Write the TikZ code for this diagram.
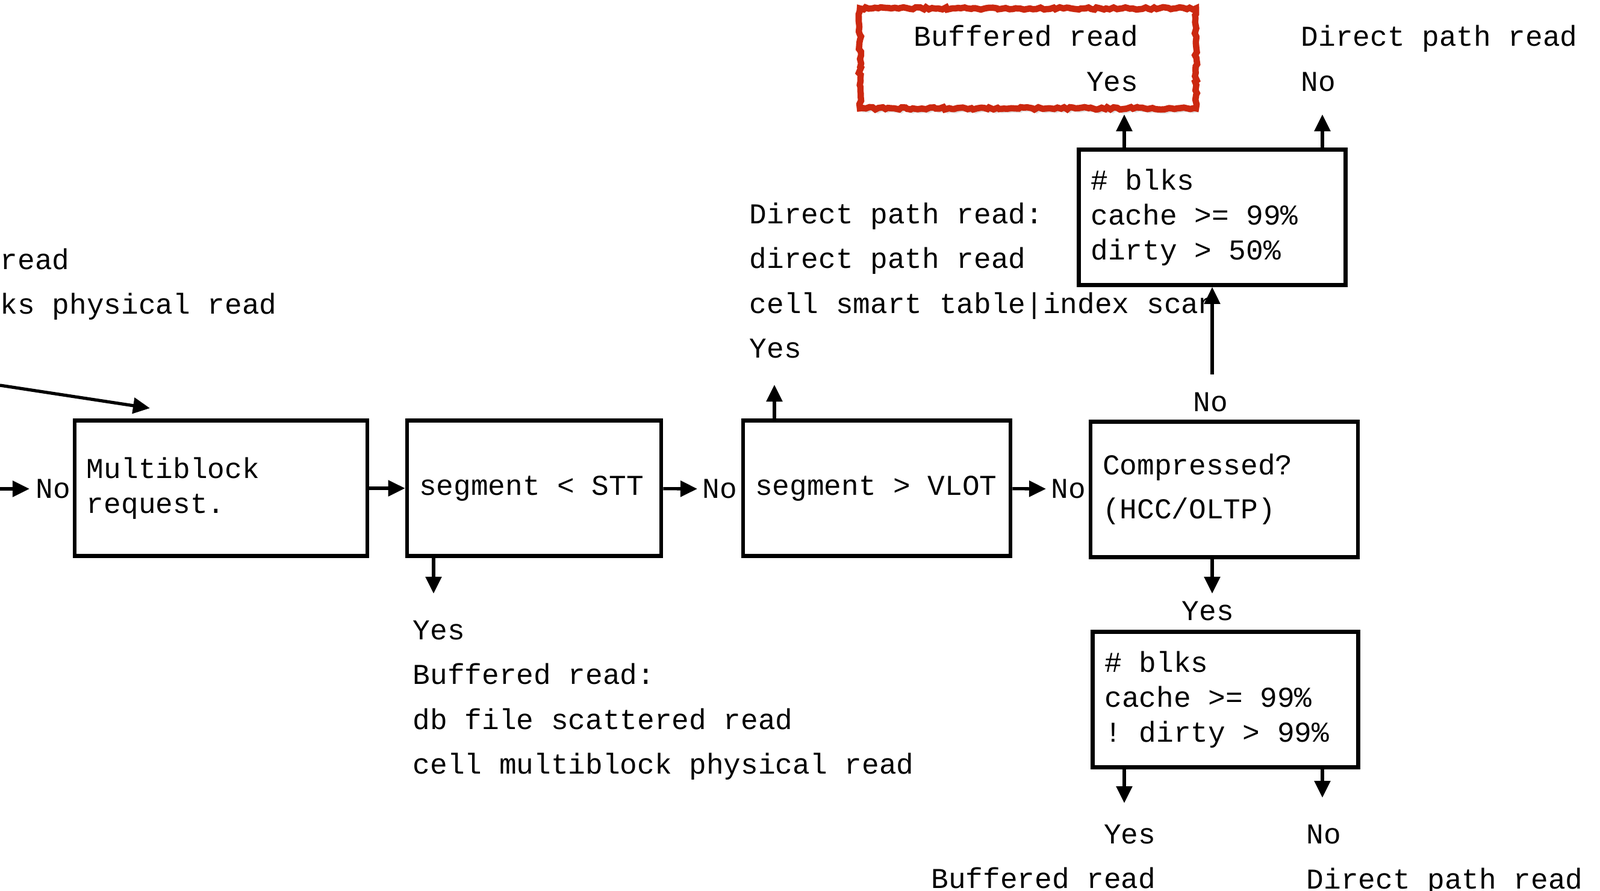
\documentclass[tikz,border=0pt]{standalone}
\usepackage{fontspec}
\setmainfont{Liberation Mono}
\usetikzlibrary{positioning,arrows.meta,decorations.pathmorphing,shadows}
\definecolor{markred}{RGB}{204,40,16}

\begin{document}
\begin{tikzpicture}[every node/.style={font=\fontsize{13.6}{16.4}\selectfont},
    box/.style={draw,line width=1.9pt,minimum height=2.25cm,inner xsep=0.2cm,align=flush left},
    lab/.style={inner sep=0pt,align=left,font=\fontsize{13.6}{21.2}\selectfont},
    arr/.style={-{Triangle[length=0.28cm,width=0.26cm]},line width=1.5pt},
    hilite/.style={draw=markred,fill=white,line width=3pt,
        decoration={random steps,segment length=1.5pt,amplitude=0.6pt},decorate,
        drop shadow={shadow xshift=0.04cm,shadow yshift=-0.07cm,opacity=0.25}}]

    \useasboundingbox (0,0) rectangle (26.57,-14.80);

    % === Main line – four tests ===
    \node[box,text width=4.46cm] (multi) at (3.67,-8.11) {Multiblock\\request.};
    \node[box,text width=3.82cm] (stt) at (8.87,-8.11) {segment < STT};
    \node[box,text width=4.04cm] (vlot) at (14.56,-8.11) {segment > VLOT};
    \node[box,text width=4.04cm] (comp) at (20.33,-8.13) {Compressed?\\[4.4pt](HCC/OLTP)};

    \node[lab,anchor=west] (no0) at (0.59,-8.12) {No};
    \node[lab,anchor=west] (no1) at (11.66,-8.12) {No};
    \node[lab,anchor=west] (no2) at (17.45,-8.12) {No};

    \coordinate (inleft) at (0,-8.12);
    \draw[arr,shorten >=0.1cm] (inleft) -- (no0.west);
    \draw[arr] (multi) -- (stt);
    \draw[arr,shorten >=0.08cm] (stt) -- (no1.west);
    \draw[arr,shorten >=0.08cm] (vlot) -- (no2.west);

    % coming in from the left
    \node[lab,anchor=west] (cutlab) at (0,-4.72) {read\\ks physical read};
    \coordinate (diagin) at (0,-6.40);
    \coordinate (diagtip) at (2.49,-6.78);
    \draw[arr] (diagin) -- (diagtip);

    % === Yes branches of the two segment tests ===
    \coordinate (sttdn) at (7.20,-9.86);
    \draw[arr] (stt.south -| sttdn) -- (sttdn);
    \node[lab,anchor=west] (buflab) at (6.85,-11.63) {Yes\\Buffered read:\\db file scattered read\\cell multiblock physical read};

    \coordinate (vlotup) at (12.86,-6.39);
    \draw[arr] (vlot.north -| vlotup) -- (vlotup);
    \node[lab,anchor=west] (dprlab) at (12.44,-4.66) {Direct path read:\\direct path read\\cell smart table|index scan\\Yes};

    % === Not compressed – upper test ===
    \node[lab] (no3) at (20.10,-6.68) {No};
    \coordinate (noup) at (20.13,-6.22);
    \node[box,text width=4.03cm] (blkup) at (20.13,-3.61) {\# blks\\cache >= 99\%\\dirty > 50\%};
    \draw[arr] (noup) -- (blkup.south);

    \node[hilite,minimum width=5.58cm,minimum height=1.66cm] (frame) at (17.07,-0.97) {};
    \node[lab,anchor=east,align=right] (toplab) at (18.91,-0.97) {Buffered read\\Yes};
    \node[lab,anchor=west] (toprlab) at (21.60,-0.97) {Direct path read\\No};

    \coordinate (upyes) at (18.67,-1.90);
    \coordinate (upno) at (21.96,-1.90);
    \draw[arr] (blkup.north -| upyes) -- (upyes);
    \draw[arr] (blkup.north -| upno) -- (upno);

    % === Compressed – lower test ===
    \coordinate (compdn) at (20.13,-9.86);
    \draw[arr] (comp.south -| compdn) -- (compdn);
    \node[lab] (yes1) at (20.06,-10.15) {Yes};
    \node[box,text width=4.01cm] (blkdn) at (20.35,-11.62) {\# blks\\cache >= 99\%\\!\ dirty > 99\%};

    \coordinate (dnyes) at (18.67,-13.34);
    \coordinate (dnno) at (21.96,-13.25);
    \draw[arr] (blkdn.south -| dnyes) -- (dnyes);
    \draw[arr] (blkdn.south -| dnno) -- (dnno);
    \node[lab,anchor=east,align=right] (botllab) at (19.20,-14.23) {Yes\\Buffered read};
    \node[lab,anchor=west] (botrlab) at (21.69,-14.28) {No\\Direct path read};
\end{tikzpicture}
\end{document}
